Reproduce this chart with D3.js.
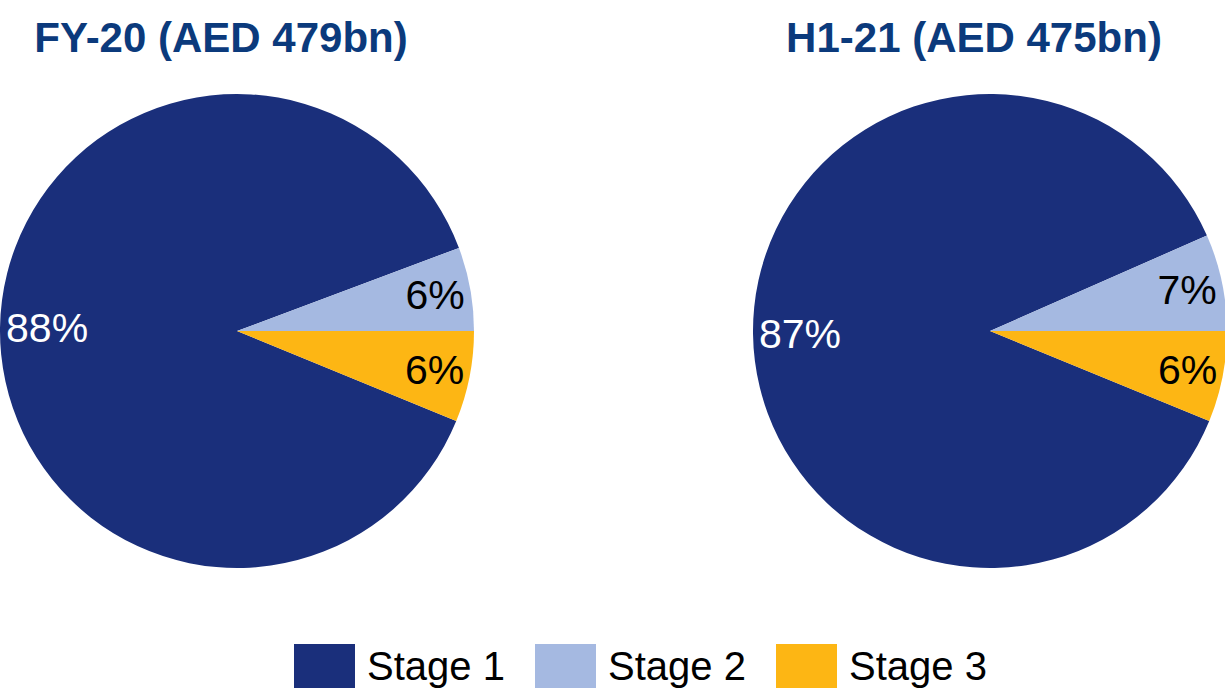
<!DOCTYPE html>
<html>
<head>
<meta charset="utf-8">
<script src="https://cdn.jsdelivr.net/npm/d3@7"></script>
<style>
	body { margin: 0; background: #fff; }
	svg { display: block; font-family: "Liberation Sans", Arial, sans-serif; }
</style>
</head>
<body>
<svg id="chart" width="1225" height="690"></svg>
<script>
// data
var stages = ['Stage 1', 'Stage 2', 'Stage 3'];
var titles = ['FY-20 (AED 479bn)', 'H1-21 (AED 475bn)'];
var fy20 = [88.1, 5.7, 6.2];
var h121 = [87.2, 6.6, 6.2];
var colors = ['#1a2f7b', '#a5b9e1', '#fdb614'];

var svg = d3.select('#chart');
var color = d3.scaleOrdinal().domain(stages).range(colors);
var radius = 237;

var drawPie = function(values, title, cx, cy) {
	var total = d3.sum(values);
	// stage 2 ends at 3 o'clock, stage 3 starts there
	var start = Math.PI / 2 - 2 * Math.PI * (values[0] + values[1]) / total;
	var pie = d3.pie().sort(null).startAngle(start).endAngle(start + 2 * Math.PI);
	var arcs = pie(values.map(function(v, i) { return { stage: stages[i], value: v }; }).map(function(d) { return d.value; }));
	var arc = d3.arc().innerRadius(0).outerRadius(radius);

	var g = svg.append('g').attr('transform', 'translate(' + cx + ',' + cy + ')');

	g.selectAll('path').data(arcs)
		.enter()
			.append('path')
				.attr('d', arc)
				.attr('fill', function(d, i) { return color(stages[i]); });

	var labels = g.selectAll('text.lbl').data(arcs)
		.enter()
			.append('text')
				.attr('class', 'lbl')
				.attr('text-anchor', 'middle')
				.attr('dy', '0.35em')
				.attr('font-size', 41)
				.attr('fill', function(d, i) { return i === 0 ? '#fff' : '#000'; })
				.text(function(d) { return Math.round(d.value / total * 100) + '%'; });

	// inside end placement
	labels.each(function(d) {
		var w = this.getComputedTextLength();
		var a = (d.startAngle + d.endAngle) / 2;
		var dist = radius - 6 - w / 2;
		d3.select(this)
			.attr('x', Math.sin(a) * dist)
			.attr('y', -Math.cos(a) * dist);
	});

	svg.append('text')
		.attr('x', cx - 16)
		.attr('y', 52)
		.attr('text-anchor', 'middle')
		.attr('font-size', 42)
		.attr('font-weight', 'bold')
		.attr('fill', '#0b3a7c')
		.text(title);
}

drawPie(fy20, titles[0], 237, 331);
drawPie(h121, titles[1], 990, 331);

// legend
var legend = svg.append('g').attr('transform', 'translate(294,644)');
var item = legend.selectAll('g').data(stages)
	.enter()
		.append('g')
			.attr('transform', function(d, i) { return 'translate(' + (i * 241) + ',0)'; });
item.append('rect')
	.attr('width', 61)
	.attr('height', 44)
	.attr('fill', function(d) { return color(d); });
item.append('text')
	.attr('x', 73)
	.attr('y', 36)
	.attr('font-size', 40)
	.attr('fill', '#000')
	.text(function(d) { return d; });
</script>
</body>
</html>
